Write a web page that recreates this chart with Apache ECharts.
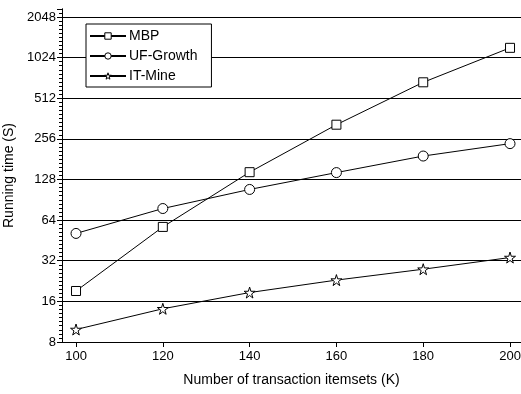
<!DOCTYPE html>
<html>
<head>
<meta charset="utf-8">
<script src="https://cdn.jsdelivr.net/npm/echarts@6/dist/echarts.min.js"></script>
<style>
  html, body { margin: 0; padding: 0; background: #fff; }
  #chart { width: 521px; height: 394px; }
</style>
</head>
<body>
<div id="chart"></div>
<script>
// x categories (K transactions)
var itemsets = [100, 120, 140, 160, 180, 200];
// running time in seconds
var mbp = [19.1, 57, 145, 326, 672, 1210];
var ufGrowth = [51, 78, 108, 144, 191, 236];
var itMine = [9.9, 14.1, 18.6, 23, 27.7, 33.8];

var starPath = 'path://M50,0 L61,35 L98,35 L68,57 L79,91 L50,70 L21,91 L32,57 L2,35 L39,35 Z';
var font = 'Liberation Sans, Arial, sans-serif';
var yMin = 8, yMax = 2347;

function pairs(vals) {
    return itemsets.map(function (x, i) { return [x, vals[i]]; });
}

function makeSeries(name, vals, symbol, size) {
    return {
        name: name,
        type: 'line',
        data: pairs(vals),
        symbol: symbol,
        symbolSize: size,
        showAllSymbol: true,
        lineStyle: { color: '#000', width: 1 },
        itemStyle: { color: '#fff', borderColor: '#000', borderWidth: 1 },
        emphasis: { disabled: true },
        animation: false
    };
}

var hollow = { color: '#fff', borderColor: '#000', borderWidth: 1 };
var gridBox = { left: 62, top: 9, right: 0, bottom: 52, containLabel: false, outerBoundsMode: 'none' };

var chart = echarts.init(document.getElementById('chart'));
chart.setOption({
    backgroundColor: '#fff',
    animation: false,
    textStyle: { fontFamily: font },
    // second grid only carries the evenly spaced minor ticks of the log axis
    grid: [gridBox, Object.assign({}, gridBox)],
    legend: {
        orient: 'vertical',
        left: 86,
        top: 24,
        backgroundColor: '#fff',
        borderColor: '#000',
        borderWidth: 1,
        borderRadius: 0,
        padding: [5, 14, 4, 3],
        itemGap: 6,
        itemWidth: 36,
        itemHeight: 8,
        textStyle: { fontSize: 14, color: '#000', fontFamily: font, padding: [0, 0, 0, -2] },
        data: [
            { name: 'MBP', itemStyle: hollow },
            { name: 'UF-Growth', itemStyle: hollow },
            { name: 'IT-Mine', itemStyle: hollow }
        ]
    },
    xAxis: [{
        type: 'value',
        min: 96.77,
        max: 202.53,
        name: 'Number of transaction itemsets (K)',
        nameLocation: 'middle',
        nameGap: 31,
        nameTextStyle: { fontSize: 14, color: '#000', fontFamily: font },
        axisLine: { lineStyle: { color: '#000', width: 1 } },
        axisTick: { show: true, length: 5, inside: false, customValues: itemsets, lineStyle: { color: '#000' } },
        axisLabel: { customValues: itemsets, fontSize: 13, color: '#000', margin: 8, fontFamily: font },
        splitLine: { show: false }
    }, {
        gridIndex: 1,
        type: 'value',
        min: 0,
        max: 1,
        show: false
    }],
    yAxis: [{
        type: 'log',
        logBase: 2,
        min: yMin,
        max: yMax,
        name: 'Running time (S)',
        nameLocation: 'middle',
        nameGap: 38,
        nameTextStyle: { fontSize: 14, color: '#000', fontFamily: font },
        axisLine: { show: true, lineStyle: { color: '#000', width: 1 } },
        axisTick: { show: true, length: 5, inside: false, lineStyle: { color: '#000' } },
        minorTick: { show: false },
        axisLabel: {
            fontSize: 13, color: '#000', margin: 6, fontFamily: font,
            showMaxLabel: false,
            formatter: function (v) { return Math.round(v); }
        },
        splitLine: { show: true, showMaxLine: false, showMinLine: false, lineStyle: { color: '#000', width: 1 } }
    }, {
        gridIndex: 1,
        type: 'value',
        position: 'left',
        min: 3,
        max: Math.log2(yMax),
        interval: 1,
        axisLine: { show: true, lineStyle: { color: '#000', width: 1 } },
        axisTick: { show: true, length: 5, inside: false, lineStyle: { color: '#000' } },
        axisLabel: { show: false },
        splitLine: { show: false },
        minorTick: { show: true, splitNumber: 10, length: 3, lineStyle: { color: '#000', width: 1 } }
    }],
    series: [
        makeSeries('MBP', mbp, 'rect', 9),
        makeSeries('UF-Growth', ufGrowth, 'circle', 10),
        makeSeries('IT-Mine', itMine, starPath, 11)
    ]
});
</script>
</body>
</html>
